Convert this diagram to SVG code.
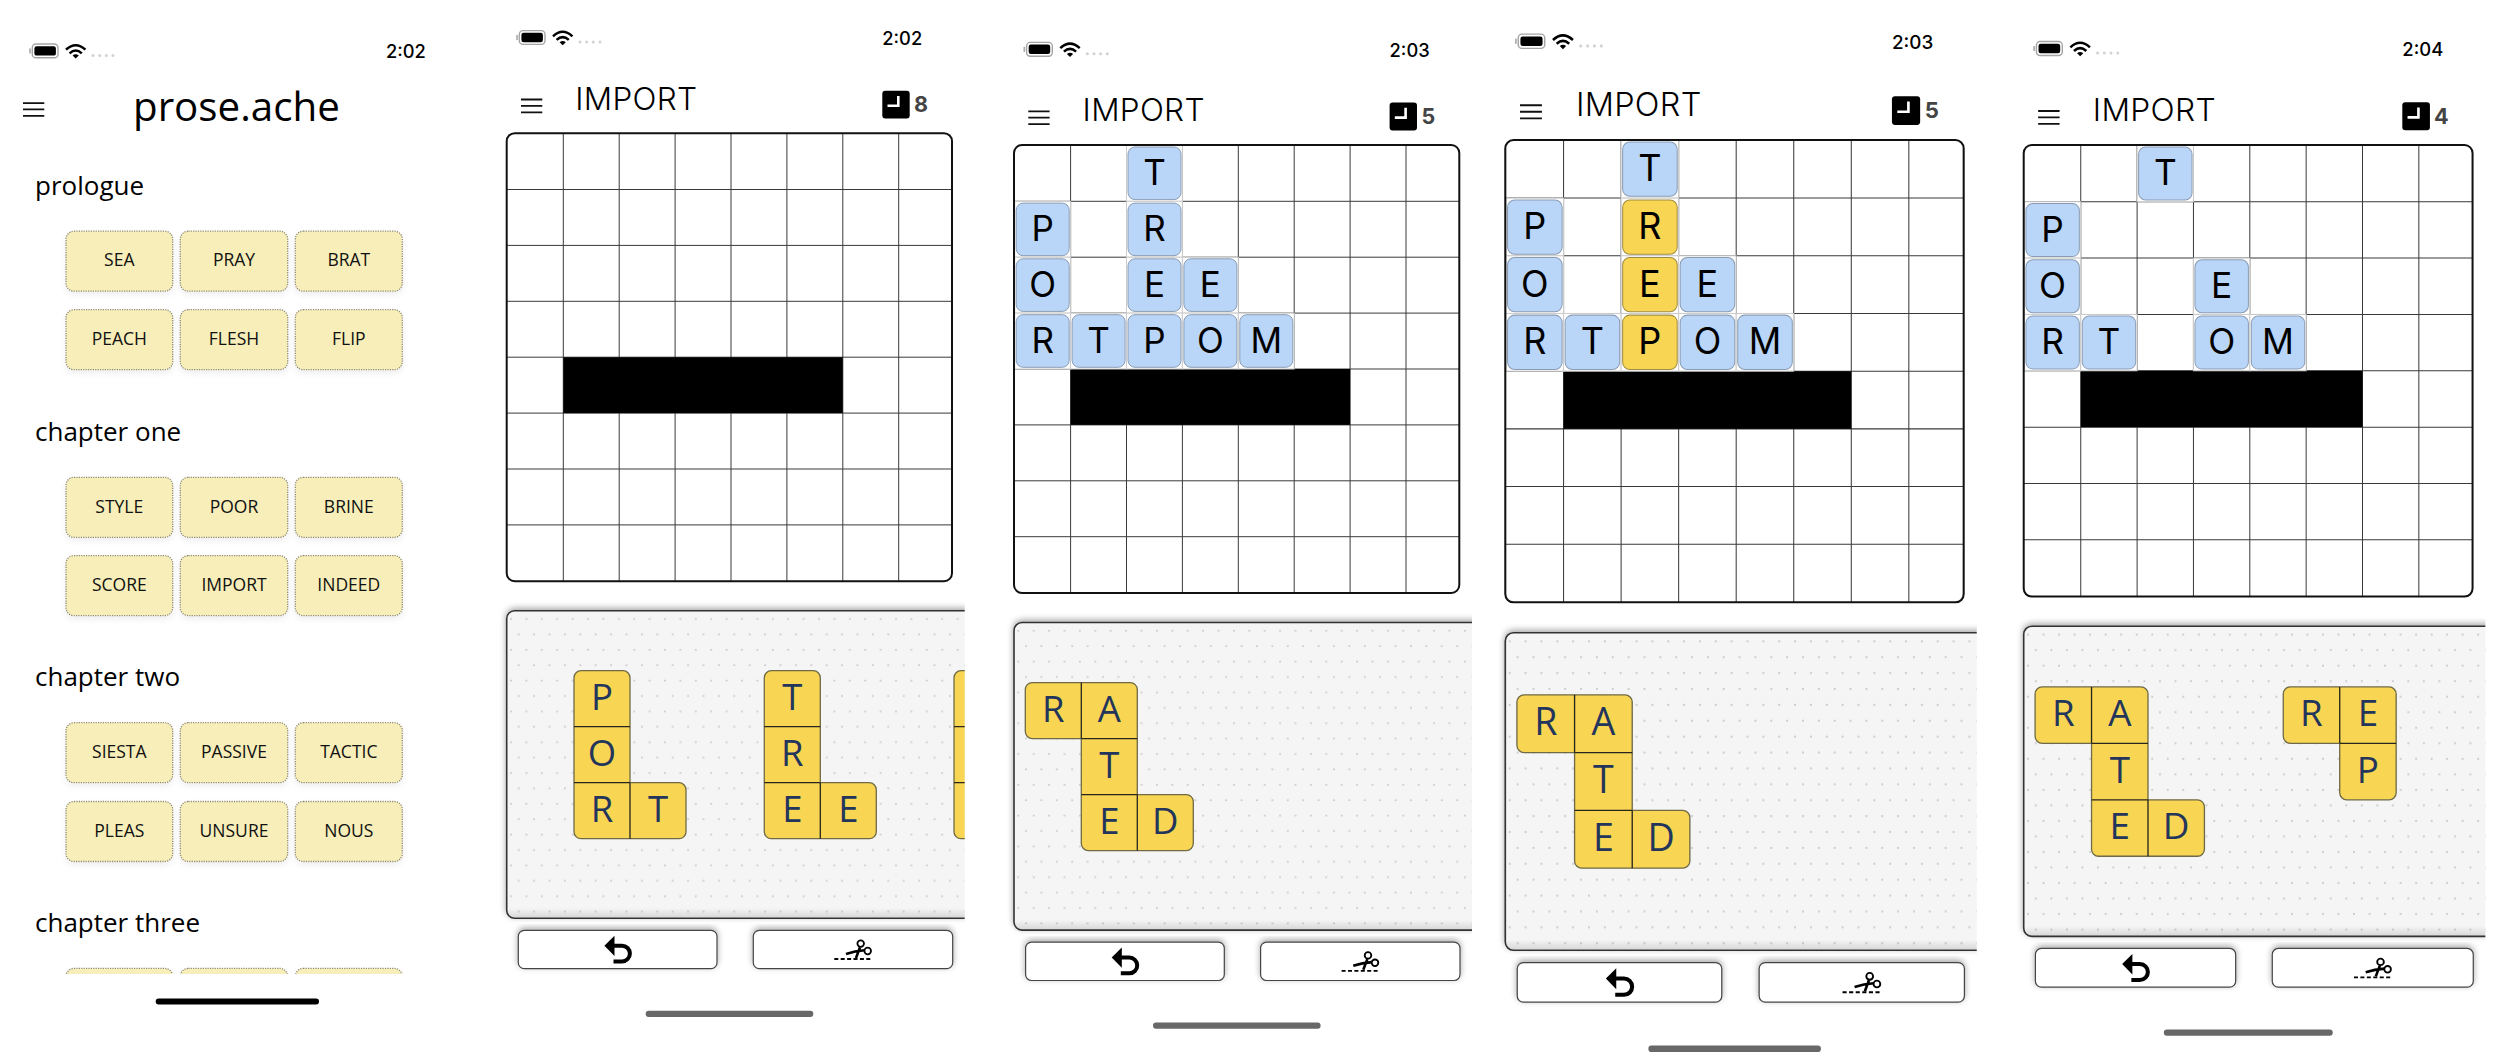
<svg xmlns="http://www.w3.org/2000/svg" xmlns:xlink="http://www.w3.org/1999/xlink" width="2506" height="1062" viewBox="0 0 2506 1062">
<style>
text{font-family:"Open Sans","Noto Sans","Liberation Sans",sans-serif;}
.time{font-family:Inter,"Liberation Sans",sans-serif;font-weight:500;font-size:18.3px;fill:#000;}
.ttl{font-size:40.3px;fill:#000;}
.hd{font-size:26px;fill:#000;}
.lv{fill:#f7eeb9;stroke:#8f8a70;stroke-width:1.3;stroke-dasharray:1.2 1.2;filter:url(#soft);}
.lt{font-size:17.5px;fill:#111;text-anchor:middle;}
.imp{font-family:Inter,"Liberation Sans",sans-serif;font-weight:300;font-size:31.5px;letter-spacing:.3px;fill:#000;}
.num{font-family:Inter,"Liberation Sans",sans-serif;font-weight:700;font-size:21.5px;fill:#444;text-anchor:middle;}
.gl{stroke:#3a3a3a;stroke-width:1;fill:none;}
.cov{fill:#fff;stroke:#ccc;stroke-width:1;}
.bt{fill:#b9d5f8;stroke:#8a9cb3;stroke-width:1;}
.yt{fill:#f8d553;stroke:#a08c3e;stroke-width:1;}
.gt{font-family:Inter,"Liberation Sans",sans-serif;font-size:35px;fill:#000;text-anchor:middle;}
.pc{fill:#f8d553;stroke:#6f6a45;stroke-width:1.3;}
.sep{fill:none;stroke:#26261e;stroke-width:1.3;}
.pt{font-size:36.5px;fill:#24355c;text-anchor:middle;}
.panel{fill:#f5f5f5;stroke:#333;stroke-width:1.6;filter:url(#up);}
.btn{fill:#fff;stroke:#444;stroke-width:1.2;filter:url(#up);}
.home{fill:#676767;filter:url(#blur);}
</style>
<defs>
<linearGradient id="shade" x1="0" y1="0" x2="0" y2="1"><stop offset="0" stop-color="#000" stop-opacity="0"/><stop offset="1" stop-color="#000" stop-opacity=".12"/></linearGradient>
<filter id="soft" x="-10%" y="-10%" width="120%" height="130%"><feDropShadow dx="0" dy="3" stdDeviation="3" flood-color="#000" flood-opacity=".07"/></filter>
<filter id="up" x="-5%" y="-15%" width="110%" height="130%"><feDropShadow dx="0" dy="-2" stdDeviation="3" flood-color="#000" flood-opacity=".35"/></filter>
<filter id="blur" x="-5%" y="-50%" width="110%" height="200%"><feGaussianBlur stdDeviation=".7"/></filter>
<pattern id="dots" patternUnits="userSpaceOnUse" x="503.3" y="611.3" width="15.4" height="30.8">
<circle cx="7.7" cy="7.7" r="1.1" fill="#cdcdcd"/><circle cx="15.4" cy="23.1" r="1.1" fill="#cdcdcd"/><circle cx="0" cy="23.1" r="1.1" fill="#cdcdcd"/>
</pattern>
<clipPath id="pclip"><rect x="490" y="590" width="474.7" height="340"/></clipPath>
<clipPath id="c3clip"><rect x="50" y="950" width="380" height="24"/></clipPath>
<g id="status">
<rect x="516.2" y="35" width="1.6" height="5" fill="#aaa"/>
<rect x="519.3" y="30.6" width="25.7" height="13.8" rx="3.6" fill="#fff" stroke="#a5a5a5" stroke-width="1.4"/>
<rect x="521.4" y="32.8" width="21.5" height="9.4" rx="2.2" fill="#000"/>
<path d="M553 36.3Q562.7 27.3 572.4 36.3M556.6 39.9Q562.7 34.3 568.8 39.9" fill="none" stroke="#000" stroke-width="2.5"/>
<path d="M559.6 42.2Q562.7 39.7 565.8 42.2L562.7 45.2Z" fill="#000"/>
<g fill="#d2d2d2"><circle cx="580" cy="42" r="1.5"/><circle cx="586.7" cy="42" r="1.5"/><circle cx="593.3" cy="42" r="1.5"/><circle cx="600" cy="42" r="1.5"/></g>
</g>
<g id="burger"><path d="M521 99.5H542.3M521 105.8H542.3M521 112.3H542.3" stroke="#111" stroke-width="1.8" fill="none"/></g>
<g id="clock"><rect x="882.3" y="90.7" width="27.4" height="27.9" rx="3" fill="#000"/><path d="M898.3 96V105.8H887.5" fill="none" stroke="#fff" stroke-width="2.6"/></g>
<g id="grid">
<rect x="506.7" y="133.2" width="445.3" height="448" rx="8" fill="#fff"/>
<path class="gl" d="M563.3 133V581M619.2 133V581M675.1 133V581M731 133V581M786.9 133V581M842.8 133V581M898.7 133V581M507 189.5H952M507 245.4H952M507 301.3H952M507 357.2H952M507 413.1H952M507 469H952M507 524.9H952"/>
<rect x="563.3" y="357.2" width="279.5" height="55.9" fill="#000"/>
</g>
<rect id="gridedge" x="506.7" y="133.2" width="445.3" height="448" rx="8" fill="none" stroke="#111" stroke-width="2"/>
<g id="panel" clip-path="url(#pclip)">
<rect class="panel" x="506.7" y="610.7" width="490" height="307.6" rx="8"/>
<rect x="507.5" y="611.5" width="490" height="306" rx="8" fill="url(#dots)"/>
<rect x="507.5" y="908" width="490" height="9.6" rx="6" fill="url(#shade)"/>
</g>
<g id="buttons">
<rect class="btn" x="518.3" y="930.3" width="198.7" height="38.4" rx="6"/>
<rect class="btn" x="753.3" y="930.3" width="199.4" height="38.4" rx="6"/>
<path d="M611 945.7H622A7.9 7.9 0 0 1 622 961.5H613.5" fill="none" stroke="#000" stroke-width="4"/>
<path d="M604.4 945.7L614.5 935.7V956Z" fill="#000"/>
<path d="M834.3 959H871" fill="none" stroke="#000" stroke-width="1.8" stroke-dasharray="4 2.4"/>
<circle cx="860.7" cy="943.6" r="3.3" fill="none" stroke="#000" stroke-width="1.8"/>
<circle cx="867.7" cy="951" r="3.3" fill="none" stroke="#000" stroke-width="1.8"/>
<path d="M846 954Q855 951 864.5 950.3M860 947.3L856 958" fill="none" stroke="#000" stroke-width="2.6"/>
</g>
<rect id="homebar" class="home" x="645.7" y="1010.7" width="167.6" height="6.3" rx="3"/>
<path id="o-l" class="pc" d="M7 0H49A7 7 0 0 1 56 7V112H105A7 7 0 0 1 112 119V161A7 7 0 0 1 105 168H7A7 7 0 0 1 0 161V7A7 7 0 0 1 7 0Z"/>
<path id="s-l" class="sep" d="M0 56H56M0 112H56M56 112V168"/>
<path id="o-r" class="pc" d="M7 0H105A7 7 0 0 1 112 7V112H161A7 7 0 0 1 168 119V161A7 7 0 0 1 161 168H63A7 7 0 0 1 56 161V56H7A7 7 0 0 1 0 49V7A7 7 0 0 1 7 0Z"/>
<path id="s-r" class="sep" d="M56 0V56M56 56H112M56 112H112M112 112V168"/>
<path id="o-p" class="pc" d="M7 0H105A7 7 0 0 1 112 7V105A7 7 0 0 1 105 112H63A7 7 0 0 1 56 105V56H7A7 7 0 0 1 0 49V7A7 7 0 0 1 7 0Z"/>
<path id="s-p" class="sep" d="M56 0V56M56 56H112"/>
</defs>
<rect width="2506" height="1062" fill="#fff"/>

<g id="screen-1">
<use href="#status" transform="translate(-487 13.4)"/>
<text class="time" x="386" y="58">2:02</text>
<use href="#burger" transform="translate(-498 3.6)"/>
<text class="ttl" x="133" y="120.5">prose.ache</text>
<text class="hd" x="35" y="195">prologue</text>
<g id="level-sea"><rect class="lv" x="66" y="231.2" width="106.7" height="60" rx="8"/><text class="lt" x="119.3" y="266.4">SEA</text></g>
<g id="level-pray"><rect class="lv" x="180.3" y="231.2" width="107.4" height="60" rx="8"/><text class="lt" x="234" y="266.4">PRAY</text></g>
<g id="level-brat"><rect class="lv" x="295.3" y="231.2" width="107" height="60" rx="8"/><text class="lt" x="348.8" y="266.4">BRAT</text></g>
<g id="level-peach"><rect class="lv" x="66" y="309.7" width="106.7" height="60" rx="8"/><text class="lt" x="119.3" y="344.9">PEACH</text></g>
<g id="level-flesh"><rect class="lv" x="180.3" y="309.7" width="107.4" height="60" rx="8"/><text class="lt" x="234" y="344.9">FLESH</text></g>
<g id="level-flip"><rect class="lv" x="295.3" y="309.7" width="107" height="60" rx="8"/><text class="lt" x="348.8" y="344.9">FLIP</text></g>
<text class="hd" x="35" y="440.5">chapter one</text>
<g id="level-style"><rect class="lv" x="66" y="477.3" width="106.7" height="60" rx="8"/><text class="lt" x="119.3" y="512.5">STYLE</text></g>
<g id="level-poor"><rect class="lv" x="180.3" y="477.3" width="107.4" height="60" rx="8"/><text class="lt" x="234" y="512.5">POOR</text></g>
<g id="level-brine"><rect class="lv" x="295.3" y="477.3" width="107" height="60" rx="8"/><text class="lt" x="348.8" y="512.5">BRINE</text></g>
<g id="level-score"><rect class="lv" x="66" y="555.6" width="106.7" height="60" rx="8"/><text class="lt" x="119.3" y="590.8">SCORE</text></g>
<g id="level-import"><rect class="lv" x="180.3" y="555.6" width="107.4" height="60" rx="8"/><text class="lt" x="234" y="590.8">IMPORT</text></g>
<g id="level-indeed"><rect class="lv" x="295.3" y="555.6" width="107" height="60" rx="8"/><text class="lt" x="348.8" y="590.8">INDEED</text></g>
<text class="hd" x="35" y="685.5">chapter two</text>
<g id="level-siesta"><rect class="lv" x="66" y="722.7" width="106.7" height="60" rx="8"/><text class="lt" x="119.3" y="757.9">SIESTA</text></g>
<g id="level-passive"><rect class="lv" x="180.3" y="722.7" width="107.4" height="60" rx="8"/><text class="lt" x="234" y="757.9">PASSIVE</text></g>
<g id="level-tactic"><rect class="lv" x="295.3" y="722.7" width="107" height="60" rx="8"/><text class="lt" x="348.8" y="757.9">TACTIC</text></g>
<g id="level-pleas"><rect class="lv" x="66" y="801.5" width="106.7" height="60" rx="8"/><text class="lt" x="119.3" y="836.7">PLEAS</text></g>
<g id="level-unsure"><rect class="lv" x="180.3" y="801.5" width="107.4" height="60" rx="8"/><text class="lt" x="234" y="836.7">UNSURE</text></g>
<g id="level-nous"><rect class="lv" x="295.3" y="801.5" width="107" height="60" rx="8"/><text class="lt" x="348.8" y="836.7">NOUS</text></g>
<text class="hd" x="35" y="931.5">chapter three</text>
<g clip-path="url(#c3clip)">
<rect class="lv" x="66" y="968.4" width="106.7" height="60" rx="8"/>
<rect class="lv" x="180.3" y="968.4" width="107.4" height="60" rx="8"/>
<rect class="lv" x="295.3" y="968.4" width="107" height="60" rx="8"/>
</g>
<rect x="155.7" y="998.6" width="163.3" height="6" rx="3" fill="#000"/>
</g>

<g id="screen-2">
<use href="#status"/>
<text class="time" x="882.3" y="44.8">2:02</text>
<use href="#burger"/>
<text class="imp" x="575.3" y="109.7">IMPORT</text>
<use href="#clock"/>
<text class="num" x="921" y="112">8</text>
<use href="#grid"/>
<use href="#gridedge"/>
<use href="#panel"/>
<g id="s2-port" transform="translate(574 670.7)"><use href="#o-l"/><use href="#s-l"/><text class="pt" x="28" y="39">P</text><text class="pt" x="28" y="95">O</text><text class="pt" x="28" y="151">R</text><text class="pt" x="84" y="151">T</text></g>
<g id="s2-tree" transform="translate(764.3 670.7)"><use href="#o-l"/><use href="#s-l"/><text class="pt" x="28" y="39">T</text><text class="pt" x="28" y="95">R</text><text class="pt" x="28" y="151">E</text><text class="pt" x="84" y="151">E</text></g>
<g id="s2-next" clip-path="url(#pclip)"><rect class="pc" x="954" y="670.7" width="56" height="168" rx="7"/><path class="sep" d="M954 726.7H1010M954 782.7H1010"/></g>
<use href="#buttons"/>
<use href="#homebar"/>
</g>

<g id="screen-3" transform="translate(507.3 11.8)">
<use href="#status"/>
<text class="time" x="882.3" y="44.8">2:03</text>
<use href="#burger"/>
<text class="imp" x="575.3" y="109.7">IMPORT</text>
<use href="#clock"/>
<text class="num" x="921" y="112">5</text>
<use href="#grid"/>
<g id="s3-tiles">
<rect class="cov" x="619.2" y="133.6" width="55.9" height="55.9"/><rect class="cov" x="507.4" y="189.5" width="55.9" height="55.9"/><rect class="cov" x="619.2" y="189.5" width="55.9" height="55.9"/><rect class="cov" x="507.4" y="245.4" width="55.9" height="55.9"/><rect class="cov" x="619.2" y="245.4" width="55.9" height="55.9"/><rect class="cov" x="675.1" y="245.4" width="55.9" height="55.9"/><rect class="cov" x="507.4" y="301.3" width="55.9" height="55.9"/><rect class="cov" x="563.3" y="301.3" width="55.9" height="55.9"/><rect class="cov" x="619.2" y="301.3" width="55.9" height="55.9"/><rect class="cov" x="675.1" y="301.3" width="55.9" height="55.9"/><rect class="cov" x="731" y="301.3" width="55.9" height="55.9"/>
<rect class="bt" x="620.7" y="135.2" width="53" height="52.6" rx="7"/><text class="gt" x="647.15" y="173">T</text>
<rect class="bt" x="508.9" y="191.3" width="53" height="52.6" rx="7"/><text class="gt" x="535.35" y="229.5">P</text>
<rect class="bt" x="620.7" y="191.3" width="53" height="52.6" rx="7"/><text class="gt" x="647.15" y="229.5">R</text>
<rect class="bt" x="508.9" y="247" width="53" height="52.6" rx="7"/><text class="gt" x="535.35" y="285">O</text>
<rect class="bt" x="620.7" y="247" width="53" height="52.6" rx="7"/><text class="gt" x="647.15" y="285">E</text>
<rect class="bt" x="676.6" y="247" width="53" height="52.6" rx="7"/><text class="gt" x="703.05" y="285">E</text>
<rect class="bt" x="508.9" y="302.9" width="53" height="52.6" rx="7"/><text class="gt" x="535.35" y="340.8">R</text>
<rect class="bt" x="564.8" y="302.9" width="53" height="52.6" rx="7"/><text class="gt" x="591.25" y="340.8">T</text>
<rect class="bt" x="620.7" y="302.9" width="53" height="52.6" rx="7"/><text class="gt" x="647.15" y="340.8">P</text>
<rect class="bt" x="676.6" y="302.9" width="53" height="52.6" rx="7"/><text class="gt" x="703.05" y="340.8">O</text>
<rect class="bt" x="732.5" y="302.9" width="53" height="52.6" rx="7"/><text class="gt" x="758.95" y="340.8">M</text>
</g>
<use href="#gridedge"/>
<use href="#panel"/>
<g id="s3-rated" transform="translate(518 670.8)"><use href="#o-r"/><use href="#s-r"/><text class="pt" x="28" y="39">R</text><text class="pt" x="84" y="39">A</text><text class="pt" x="84" y="95">T</text><text class="pt" x="84" y="151">E</text><text class="pt" x="140" y="151">D</text></g>
<use href="#buttons"/>
<use href="#homebar"/>
</g>

<g id="screen-4" transform="matrix(1.0294 0 0 1.032 983.7 2.54)">
<use href="#status"/>
<text class="time" x="882.3" y="44.8">2:03</text>
<use href="#burger"/>
<text class="imp" x="575.3" y="109.7">IMPORT</text>
<use href="#clock"/>
<text class="num" x="921" y="112">5</text>
<use href="#grid"/>
<g id="s4-tiles">
<rect class="cov" x="619.2" y="133.6" width="55.9" height="55.9"/><rect class="cov" x="507.4" y="189.5" width="55.9" height="55.9"/><rect class="cov" x="619.2" y="189.5" width="55.9" height="55.9"/><rect class="cov" x="507.4" y="245.4" width="55.9" height="55.9"/><rect class="cov" x="619.2" y="245.4" width="55.9" height="55.9"/><rect class="cov" x="675.1" y="245.4" width="55.9" height="55.9"/><rect class="cov" x="507.4" y="301.3" width="55.9" height="55.9"/><rect class="cov" x="563.3" y="301.3" width="55.9" height="55.9"/><rect class="cov" x="619.2" y="301.3" width="55.9" height="55.9"/><rect class="cov" x="675.1" y="301.3" width="55.9" height="55.9"/><rect class="cov" x="731" y="301.3" width="55.9" height="55.9"/>
<rect class="bt" x="620.7" y="135.2" width="53" height="52.6" rx="7"/><text class="gt" x="647.15" y="173">T</text>
<rect class="bt" x="508.9" y="191.3" width="53" height="52.6" rx="7"/><text class="gt" x="535.35" y="229.5">P</text>
<rect class="yt" x="620.7" y="191.3" width="53" height="52.6" rx="7"/><text class="gt" x="647.15" y="229.5">R</text>
<rect class="bt" x="508.9" y="247" width="53" height="52.6" rx="7"/><text class="gt" x="535.35" y="285">O</text>
<rect class="yt" x="620.7" y="247" width="53" height="52.6" rx="7"/><text class="gt" x="647.15" y="285">E</text>
<rect class="bt" x="676.6" y="247" width="53" height="52.6" rx="7"/><text class="gt" x="703.05" y="285">E</text>
<rect class="bt" x="508.9" y="302.9" width="53" height="52.6" rx="7"/><text class="gt" x="535.35" y="340.8">R</text>
<rect class="bt" x="564.8" y="302.9" width="53" height="52.6" rx="7"/><text class="gt" x="591.25" y="340.8">T</text>
<rect class="yt" x="620.7" y="302.9" width="53" height="52.6" rx="7"/><text class="gt" x="647.15" y="340.8">P</text>
<rect class="bt" x="676.6" y="302.9" width="53" height="52.6" rx="7"/><text class="gt" x="703.05" y="340.8">O</text>
<rect class="bt" x="732.5" y="302.9" width="53" height="52.6" rx="7"/><text class="gt" x="758.95" y="340.8">M</text>
</g>
<use href="#gridedge"/>
<use href="#panel"/>
<g id="s4-rated" transform="translate(518 670.8)"><use href="#o-r"/><use href="#s-r"/><text class="pt" x="28" y="39">R</text><text class="pt" x="84" y="39">A</text><text class="pt" x="84" y="95">T</text><text class="pt" x="84" y="151">E</text><text class="pt" x="140" y="151">D</text></g>
<use href="#buttons"/>
<use href="#homebar"/>
</g>

<g id="screen-5" transform="matrix(1.008 0 0 1.008 1512.95 10.73)">
<use href="#status"/>
<text class="time" x="882.3" y="44.8">2:04</text>
<use href="#burger"/>
<text class="imp" x="575.3" y="109.7">IMPORT</text>
<use href="#clock"/>
<text class="num" x="921" y="112">4</text>
<use href="#grid"/>
<g id="s5-tiles">
<rect class="cov" x="619.2" y="133.6" width="55.9" height="55.9"/><rect class="cov" x="507.4" y="189.5" width="55.9" height="55.9"/><rect class="cov" x="507.4" y="245.4" width="55.9" height="55.9"/><rect class="cov" x="675.1" y="245.4" width="55.9" height="55.9"/><rect class="cov" x="507.4" y="301.3" width="55.9" height="55.9"/><rect class="cov" x="563.3" y="301.3" width="55.9" height="55.9"/><rect class="cov" x="675.1" y="301.3" width="55.9" height="55.9"/><rect class="cov" x="731" y="301.3" width="55.9" height="55.9"/>
<rect class="bt" x="620.7" y="135.2" width="53" height="52.6" rx="7"/><text class="gt" x="647.15" y="173">T</text>
<rect class="bt" x="508.9" y="191.3" width="53" height="52.6" rx="7"/><text class="gt" x="535.35" y="229.5">P</text>
<rect class="bt" x="508.9" y="247" width="53" height="52.6" rx="7"/><text class="gt" x="535.35" y="285">O</text>
<rect class="bt" x="676.6" y="247" width="53" height="52.6" rx="7"/><text class="gt" x="703.05" y="285">E</text>
<rect class="bt" x="508.9" y="302.9" width="53" height="52.6" rx="7"/><text class="gt" x="535.35" y="340.8">R</text>
<rect class="bt" x="564.8" y="302.9" width="53" height="52.6" rx="7"/><text class="gt" x="591.25" y="340.8">T</text>
<rect class="bt" x="676.6" y="302.9" width="53" height="52.6" rx="7"/><text class="gt" x="703.05" y="340.8">O</text>
<rect class="bt" x="732.5" y="302.9" width="53" height="52.6" rx="7"/><text class="gt" x="758.95" y="340.8">M</text>
</g>
<use href="#gridedge"/>
<use href="#panel"/>
<g id="s5-rated" transform="translate(518 670.8)"><use href="#o-r"/><use href="#s-r"/><text class="pt" x="28" y="39">R</text><text class="pt" x="84" y="39">A</text><text class="pt" x="84" y="95">T</text><text class="pt" x="84" y="151">E</text><text class="pt" x="140" y="151">D</text></g>
<g id="s5-rep" transform="translate(764.2 670.8)"><use href="#o-p"/><use href="#s-p"/><text class="pt" x="28" y="39">R</text><text class="pt" x="84" y="39">E</text><text class="pt" x="84" y="95">P</text></g>
<use href="#buttons"/>
<use href="#homebar"/>
</g>
</svg>
